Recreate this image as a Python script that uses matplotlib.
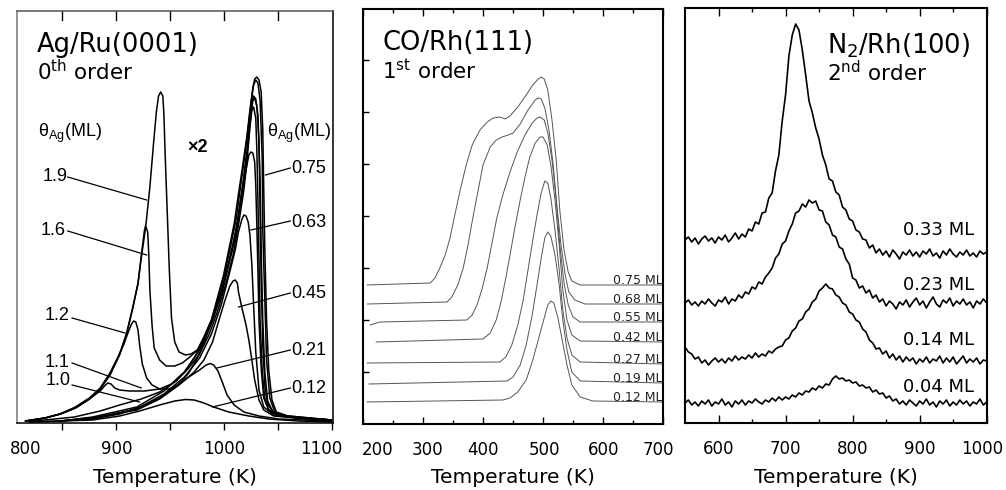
import numpy as np
import matplotlib
matplotlib.use("Agg")
import matplotlib.pyplot as plt
from matplotlib.ticker import FixedLocator

# ---------------- Panel 1 : Ag/Ru(0001), zeroth order -----------------
ag_T_19 = [816, 834, 848, 862, 875, 885, 894, 903, 909.5, 915, 920, 923, 927, 931, 934.5, 937, 939, 941, 943, 944,
           945, 947, 949, 951, 954, 958, 964, 969, 975, 981, 988, 993, 999, 1004, 1009, 1013, 1017, 1021, 1023.6,
           1026.3, 1028, 1030, 1032, 1034, 1035.5, 1036.4, 1037.4, 1039, 1041, 1044, 1048, 1059, 1099]
ag_I_19 = [2, 5, 9, 15, 24, 34, 48, 68, 89, 114, 139, 165, 195, 236, 281, 311, 327, 331, 327, 308,
           273, 213, 153, 105, 81, 71, 68, 69, 73, 85, 103, 123, 147, 173, 199, 229, 258, 288, 313,
           335, 344, 346, 343, 331, 293, 233, 173, 103, 53, 23, 11, 7, 3]

ag_T_16 = [816, 834, 848, 862, 875, 885, 894, 903, 909.5, 915, 920, 923, 926, 927, 929, 930, 931, 933, 935, 940,
           946, 954, 961, 968, 975, 981, 988, 994, 1000.6, 1006, 1011, 1015, 1019, 1022.6, 1025.4, 1027, 1029,
           1031, 1033, 1035, 1035.5, 1037.4, 1039, 1042, 1046.6, 1059, 1099]
ag_I_16 = [2, 5, 9, 15, 24, 34, 48, 69, 90, 115, 140, 167, 193, 197, 191, 168, 133, 98, 75, 63,
           57, 57, 60, 66, 73, 86, 103, 125, 151, 178, 205, 237, 268, 301, 326, 338, 343,
           340, 323, 263, 193, 123, 63, 25, 11, 6, 3]

ag_T_12 = [816, 834, 848, 862, 875, 885, 894, 901, 907, 911, 914, 916, 918, 920, 921.5, 924, 928, 933, 940, 949,
           958, 967, 975, 982, 989.5, 996, 1002.4, 1008, 1012.5, 1017, 1021, 1023.6, 1025.4, 1027, 1029, 1031,
           1033, 1034, 1035.5, 1037.4, 1040, 1045, 1059, 1099]
ag_I_12 = [2, 5, 9, 16, 25, 35, 50, 65, 79, 91, 99, 102, 101, 93, 78, 59, 45, 38, 34, 34,
           39, 50, 65, 83, 104, 127, 153, 178, 205, 238, 273, 305, 321, 327, 324, 308,
           243, 173, 103, 51, 22, 11, 6, 3]

ag_T_11 = [816, 834, 848, 862, 875, 885, 889, 892, 895, 898.5, 903, 912, 926, 940, 951, 963, 972, 981, 990, 998,
           1004, 1010, 1014, 1018, 1022, 1024.5, 1026.3, 1028, 1030, 1032, 1033, 1034, 1035.5, 1037.4, 1040,
           1045.6, 1059, 1099]
ag_I_11 = [2, 5, 9, 15, 24, 32, 37, 40, 39, 35, 33, 32, 32, 34, 39, 51, 65, 83, 106, 131,
           158, 185, 215, 245, 280, 308, 322, 325, 317, 283, 213, 143, 78, 38, 19, 10, 6, 3]

ag_T_10 = [816, 834, 861, 885, 903, 923, 940, 955.5, 967, 977, 986, 994, 1001.5, 1008, 1013, 1018, 1021, 1023.6,
           1025.4, 1027, 1029, 1030, 1031, 1032, 1033, 1035, 1037.4, 1041, 1050, 1099]
ag_I_10 = [2, 3, 6, 12, 18, 24, 31, 42, 55, 69, 89, 113, 140, 168, 198, 233, 263, 296,
           313, 316, 305, 273, 223, 163, 103, 51, 25, 13, 8, 3]

ag_T_075 = [848, 878, 919, 944, 963, 977, 988, 997, 1004, 1012, 1016, 1020, 1022.6, 1024.5, 1026.3, 1028, 1029,
            1030, 1031, 1032, 1034, 1036.4, 1041, 1050, 1099]
ag_I_075 = [2, 6, 16, 32, 51, 73, 101, 131, 161, 198, 228, 253, 268, 271, 270, 261, 238,
            198, 153, 103, 55, 25, 13, 7, 2]

ag_T_063 = [848, 878, 919, 944, 963, 977, 988, 997, 1004, 1010, 1013, 1016, 1018, 1020, 1022, 1023.6, 1025.4,
            1027, 1029, 1032, 1036.4, 1045.6, 1099]
ag_I_063 = [2, 5, 14, 29, 46, 65, 89, 118, 147, 173, 191, 203, 208, 207, 201, 188, 158,
            118, 71, 33, 16, 8, 2]

ag_T_045 = [848, 878, 919, 940, 958, 972, 981, 989, 995, 1000.6, 1005, 1008, 1010, 1012, 1013, 1016, 1020,
            1022.6, 1025.4, 1028, 1032, 1036.4, 1045.6, 1099]
ag_I_045 = [2, 5, 13, 24, 38, 51, 63, 81, 103, 123, 137, 142, 143, 140, 131, 116, 98,
            83, 63, 43, 23, 13, 7, 2]

ag_T_021 = [820, 848, 878, 903, 924, 940, 955.5, 967, 977, 983, 987, 990, 994, 998, 1002.4, 1009, 1018, 1032,
            1050, 1099]
ag_I_021 = [1, 2, 4, 9, 17, 25, 37, 46, 53, 58, 59.5, 58, 52, 41, 28, 18, 11, 7, 4, 2]

ag_T_012 = [820, 848, 878, 903, 921.5, 940, 954, 964, 972, 981, 990, 1004, 1022.6, 1041, 1068.6, 1099]
ag_I_012 = [1, 2, 3, 7, 12, 18, 22, 23.5, 23, 20, 16, 11, 7, 4, 2, 1]

ag_series = [(ag_T_19, ag_I_19), (ag_T_16, ag_I_16), (ag_T_12, ag_I_12), (ag_T_11, ag_I_11),
             (ag_T_10, ag_I_10), (ag_T_075, ag_I_075), (ag_T_063, ag_I_063), (ag_T_045, ag_I_045),
             (ag_T_021, ag_I_021), (ag_T_012, ag_I_012)]

ag_left_labels = ["1.9", "1.6", "1.2", "1.1", "1.0"]
ag_right_labels = ["0.75", "0.63", "0.45", "0.21", "0.12"]
ag_tick_labels = ["800", "900", "1000", "1100"]

# ---------------- Panel 2 : CO/Rh(111), first order -----------------
co_labels = ["0.75 ML", "0.68 ML", "0.55 ML", "0.42 ML", "0.27 ML", "0.19 ML", "0.12 ML"]
co_baselines = [139, 120, 102, 82, 60, 41, 22]
co_tick_labels = ["200", "300", "400", "500", "600", "700"]

co_T_075 = [207, 312, 320, 328, 337, 345, 353, 362, 372, 382, 395, 407, 417, 428, 437, 445, 458, 472, 483, 492,
            497, 502, 508, 515, 522, 528, 535, 542, 548, 562, 595, 700]
co_I_075 = [139, 141, 146, 156, 169, 186, 209, 234, 259, 279, 294, 302, 306, 307, 305, 308, 317, 329, 339, 345,
            347, 345, 334, 304, 264, 214, 174, 152, 143, 139, 139, 139]
co_T_068 = [207, 340, 348, 358, 367, 375, 383, 392, 400, 412, 422, 432, 442, 450, 462, 475, 487, 492, 497, 503,
            510, 517, 523, 530, 537, 543, 553, 570, 700]
co_I_068 = [120, 122, 127, 139, 156, 179, 206, 234, 259, 277, 284, 287, 289, 291, 300, 314, 324, 326, 325, 316,
            294, 259, 219, 179, 149, 132, 124, 120, 120]
co_T_055 = [212, 228, 373, 382, 390, 398, 407, 415, 423, 433, 445, 457, 470, 482, 490, 495, 502, 508, 515, 522,
            528, 535, 542, 550, 562, 700]
co_I_055 = [99, 102, 104, 109, 119, 134, 156, 181, 206, 229, 252, 272, 289, 301, 306, 307, 304, 291, 264, 224,
            179, 141, 119, 107, 102, 102]
co_T_042 = [222, 400, 412, 422, 430, 438, 445, 453, 462, 470, 478, 487, 495, 500, 507, 513, 520, 527, 533, 540,
            548, 562, 700]
co_I_042 = [82, 85, 91, 104, 122, 146, 169, 196, 224, 247, 267, 281, 287, 287, 279, 259, 224, 179, 134, 104,
            89, 83, 82]
co_T_027 = [207, 428, 438, 448, 458, 467, 475, 483, 490, 497, 503, 508, 513, 520, 527, 533, 540, 548, 562, 700]
co_I_027 = [61, 62, 67, 79, 99, 124, 154, 184, 209, 231, 243, 241, 226, 194, 154, 114, 86, 69, 62, 60]
co_T_019 = [210, 440, 450, 462, 472, 482, 490, 497, 503, 508, 513, 520, 527, 533, 540, 548, 562, 700]
co_I_019 = [40, 43, 47, 59, 79, 109, 139, 166, 186, 192, 188, 169, 139, 104, 74, 52, 43, 41]
co_T_012 = [207, 433, 445, 458, 472, 483, 493, 502, 508, 513, 518, 525, 532, 540, 548, 562, 583, 700]
co_I_012 = [22, 24, 26, 32, 44, 64, 86, 106, 119, 123, 121, 106, 84, 59, 39, 27, 23, 22]

co_series = [(co_T_075, co_I_075), (co_T_068, co_I_068), (co_T_055, co_I_055), (co_T_042, co_I_042),
             (co_T_027, co_I_027), (co_T_019, co_I_019), (co_T_012, co_I_012)]

# ---------------- Panel 3 : N2/Rh(100), second order -----------------
n2_T = list(range(550, 1001, 5))
n2_labels = ["0.33 ML", "0.23 ML", "0.14 ML", "0.04 ML"]
n2_label_levels = [193, 138, 83, 36]
n2_tick_labels = ["600", "700", "800", "900", "1000"]

n2_I_033 = [183, 186, 181, 185, 179, 184, 187, 182, 185, 180, 186, 183, 188, 181, 185, 190, 184, 189, 186, 194,
            192, 201, 199, 210, 211, 225, 230, 252, 268, 302, 328, 367, 388, 399, 393, 373, 348, 322, 310, 295,
            284, 268, 258, 244, 242, 231, 228, 216, 213, 204, 202, 193, 191, 184, 183, 175, 178, 170, 174, 168,
            172, 166, 173, 169, 164, 171, 168, 173, 167, 171, 166, 172, 169, 174, 167, 170, 165, 172, 168, 174,
            169, 166, 171, 168, 173, 167, 170, 166, 172, 169, 171]
n2_I_023 = [120, 123, 118, 121, 117, 122, 119, 124, 120, 117, 123, 121, 126, 119, 124, 122, 128, 125, 131, 129,
            136, 134, 141, 139, 146, 150, 155, 165, 169, 179, 182, 192, 199, 210, 212, 219, 216, 223, 220, 222,
            213, 212, 201, 198, 188, 186, 176, 174, 164, 159, 145, 143, 135, 137, 130, 133, 125, 128, 121, 124,
            117, 122, 119, 114, 121, 118, 123, 116, 121, 125, 118, 122, 115, 121, 126, 119, 116, 123, 120, 125,
            117, 122, 119, 124, 118, 121, 115, 122, 119, 124, 120]
n2_I_014 = [76, 71, 69, 64, 66, 60, 63, 58, 62, 65, 61, 64, 60, 65, 62, 67, 63, 66, 64, 68,
            65, 70, 66, 69, 67, 72, 70, 74, 76, 77, 83, 85, 92, 95, 102, 104, 111, 114, 121, 124,
            132, 135, 139, 135, 134, 128, 126, 120, 118, 111, 109, 103, 101, 94, 91, 83, 80, 74, 75, 69,
            72, 65, 69, 63, 67, 61, 66, 62, 65, 59, 64, 61, 66, 60, 64, 62, 67, 60, 65, 61,
            66, 59, 63, 67, 60, 64, 61, 65, 59, 63, 62]
n2_I_004 = [20, 23, 18, 21, 17, 22, 19, 23, 17, 21, 19, 24, 18, 21, 16, 22, 19, 23, 18, 22,
            20, 24, 21, 19, 23, 21, 25, 22, 26, 23, 26, 24, 28, 26, 30, 28, 32, 31, 35, 33,
            37, 35, 39, 38, 44, 47, 44, 45, 42, 43, 40, 41, 37, 38, 35, 36, 31, 33, 29, 30,
            25, 27, 22, 24, 19, 22, 18, 23, 20, 17, 22, 19, 24, 18, 21, 16, 22, 19, 23, 17,
            21, 18, 23, 19, 22, 17, 21, 19, 24, 18, 21]
n2_series = [n2_I_033, n2_I_023, n2_I_014, n2_I_004]

# ---------------- figure -----------------
W, H = 1006, 490
fig = plt.figure(figsize=(W / 100, H / 100), dpi=100)


def fx(px):
    return px / W


def fy(py):
    return 1 - py / H


ax1 = fig.add_axes([fx(17), fy(423), fx(333 - 17), (423 - 11) / H])
ax2 = fig.add_axes([fx(363), fy(424), fx(663 - 363), (424 - 9) / H])
ax3 = fig.add_axes([fx(685), fy(423), fx(987 - 685), (423 - 8) / H])

label_font = ["Liberation Sans Narrow", "Liberation Sans", "DejaVu Sans"]
TICK_FS = 12
XLAB_FS = 14.5
XLAB_PAD = 7
TL_Y = -0.063   # tick-label centre, in axes fraction (below the bottom spine)


def place_tick_labels(ax, positions, labels):
    """Write tick labels as texts so the edge ones can sit like the reference."""
    tr = ax.get_xaxis_transform()
    for p, lab in zip(positions, labels):
        ax.text(p, TL_Y, lab, transform=tr, ha="center", va="center", fontsize=TICK_FS, clip_on=False)


# ---- panel 1
for T, I in ag_series:
    ax1.plot(T, I, color="black", lw=1.1, solid_joinstyle="round")
ax1.set_xlim(808, 1100.5)
ax1.set_ylim(0, 412)
ax1.xaxis.set_major_locator(FixedLocator([900, 1000, 1100]))
ax1.xaxis.set_minor_locator(FixedLocator([850, 950, 1050]))
ax1.set_yticks([])
ax1.tick_params(axis="x", which="both", direction="out", length=5, width=1,
                labelbottom=False, top=False)
for s in ax1.spines.values():
    s.set_linewidth(1.1)
ax1.spines["left"].set_color("#777777")
ax1.spines["top"].set_color("#555555")
for t in [850, 900, 950, 1000, 1050]:
    ax1.plot([t, t], [412, 403], color="black", lw=1, clip_on=False)
place_tick_labels(ax1, [816, 900, 1000, 1090], ag_tick_labels)

left_text_pos = [(843, 247), (841, 193), (845, 108), (845, 61), (846, 43)]
left_leaders = [((855, 246), (928, 223)), ((855, 192), (928, 168)), ((859, 105), (908, 90)),
                ((859, 60), (923, 35)), ((859, 38), (921.5, 21))]
for lab, (tx, ty), (p0, p1) in zip(ag_left_labels, left_text_pos, left_leaders):
    ax1.text(tx, ty, lab, ha="center", va="center", fontsize=13, family=label_font)
    ax1.plot([p0[0], p1[0]], [p0[1], p1[1]], color="black", lw=0.9)
right_text_y = [255, 201, 130, 73, 35]
right_leaders = [((1061, 255), (1038, 248)), ((1061, 202), (1024.5, 193)), ((1061, 130), (1013, 116)),
                 ((1061, 73), (993, 55)), ((1061, 35), (989, 16))]
for lab, ty, (p0, p1) in zip(ag_right_labels, right_text_y, right_leaders):
    ax1.text(1062, ty, lab, ha="left", va="center", fontsize=13, family=label_font)
    ax1.plot([p0[0], p1[0]], [p0[1], p1[1]], color="black", lw=0.9)
ax1.text(857, 290, "θ$_{\\mathregular{Ag}}$(ML)", ha="center", va="center", fontsize=13, family=label_font)
ax1.text(1069, 290, "θ$_{\\mathregular{Ag}}$(ML)", ha="center", va="center", fontsize=13, family=label_font)
ax1.text(975, 276, "×2", ha="center", va="center", fontsize=13, family=label_font, fontweight="bold")

fig.text(fx(37), fy(52), "Ag/Ru(0001)", fontsize=18.5, ha="left", va="baseline")
fig.text(fx(37), fy(80), "0$^{\\mathregular{th}}$ order", fontsize=15.5, ha="left", va="baseline")

# ---- panel 2
for T, I in co_series:
    ax2.plot(T, I, color="#555555", lw=0.7)
ax2.set_xlim(200, 700)
ax2.set_ylim(0, 415)
ax2.xaxis.set_major_locator(FixedLocator([200, 300, 400, 500, 600, 700]))
ax2.xaxis.set_minor_locator(FixedLocator([250, 350, 450, 550, 650]))
ax2.yaxis.set_major_locator(FixedLocator([52, 104, 156, 208, 260, 312, 364]))
ax2.tick_params(axis="x", which="major", direction="in", length=5, width=1,
                labelbottom=False, top=True)
ax2.tick_params(axis="x", which="minor", direction="in", length=3, width=1, top=True)
ax2.tick_params(axis="y", which="major", direction="in", length=4, width=1, labelleft=False)
for s in ax2.spines.values():
    s.set_linewidth(1.5)
place_tick_labels(ax2, [224, 308, 400, 502, 601, 692], co_tick_labels)
for lab, b in zip(co_labels, co_baselines):
    ax2.text(699, b + 1.5, lab, ha="right", va="baseline", fontsize=9, color="#222222")
fig.text(fx(382), fy(50), "CO/Rh(111)", fontsize=18.5, ha="left", va="baseline")
fig.text(fx(382), fy(79), "1$^{\\mathregular{st}}$ order", fontsize=15.5, ha="left", va="baseline")

# ---- panel 3
for I in n2_series:
    ax3.plot(n2_T, I, color="black", lw=1.2)
ax3.set_xlim(550, 1000.5)
ax3.set_ylim(0, 415)
ax3.xaxis.set_major_locator(FixedLocator([600, 700, 800, 900, 1000]))
ax3.xaxis.set_minor_locator(FixedLocator([650, 750, 850, 950]))
ax3.set_yticks([])
ax3.tick_params(axis="x", which="major", direction="in", length=5.5, width=1,
                labelbottom=False, top=True)
ax3.tick_params(axis="x", which="minor", direction="in", length=3, width=1, top=True)
for s in ax3.spines.values():
    s.set_linewidth(1.5)
place_tick_labels(ax3, [600, 700, 800, 900, 994], n2_tick_labels)
for lab, lv in zip(n2_labels, n2_label_levels):
    ax3.text(981, lv, lab, ha="right", va="center", fontsize=13)
fig.text(fx(827), fy(53), "N$_{\\mathregular{2}}$/Rh(100)", fontsize=18.5, ha="left", va="baseline")
fig.text(fx(827), fy(81), "2$^{\\mathregular{nd}}$ order", fontsize=15.5, ha="left", va="baseline")

# x-axis titles
for ax, cx in [(ax1, 175), (ax2, 513), (ax3, 836)]:
    fig.text(fx(cx), fy(477), "Temperature (K)", fontsize=XLAB_FS, ha="center", va="center")

fig.savefig("out.png", dpi=100)
